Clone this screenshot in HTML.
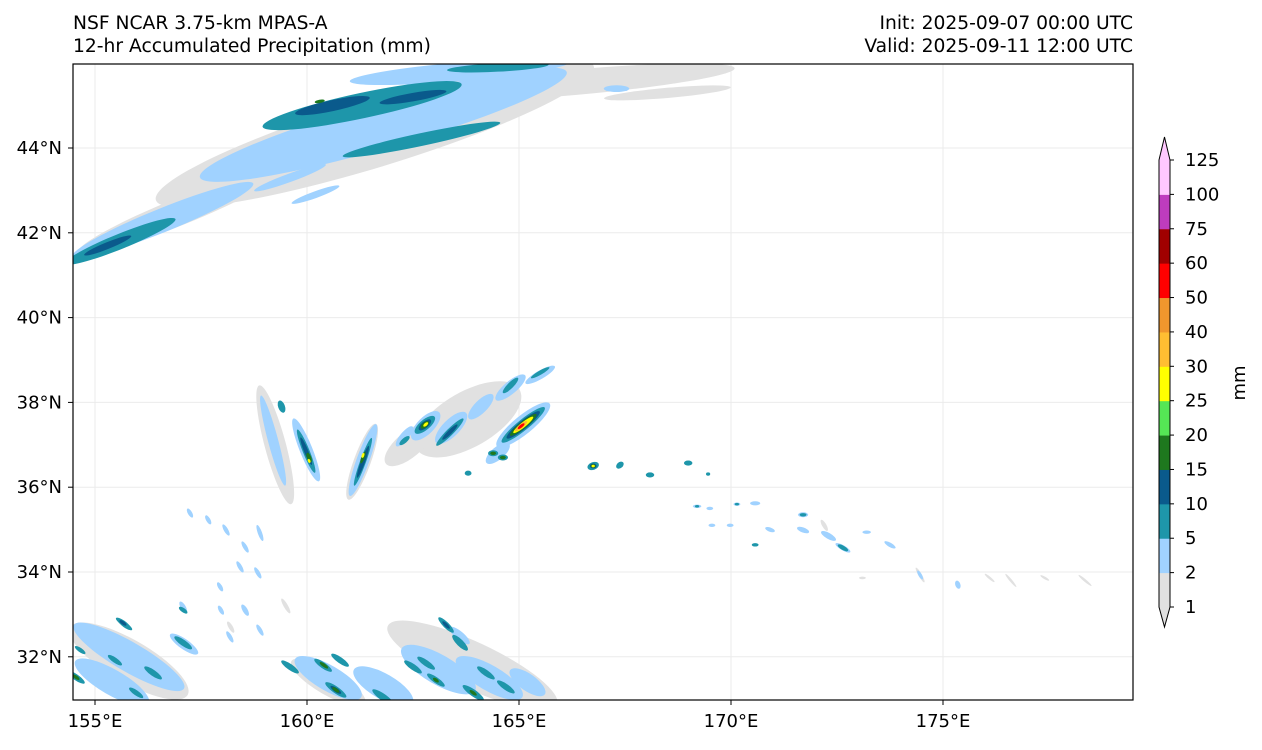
<!DOCTYPE html>
<html><head><meta charset="utf-8"><style>
body{margin:0;background:#fff;font-family:"Liberation Sans","DejaVu Sans",sans-serif}
svg text{font-family:"DejaVu Sans","Liberation Sans",sans-serif;font-size:18px;fill:#000}
svg text.ttl{font-size:18.7px}
</style></head><body>
<svg id="c" width="1262" height="745" xmlns="http://www.w3.org/2000/svg">
<text class="ttl" x="73" y="29">NSF NCAR 3.75-km MPAS-A</text>
<text class="ttl" x="73" y="52">12-hr Accumulated Precipitation (mm)</text>
<text class="ttl" x="1133" y="29" text-anchor="end">Init: 2025-09-07 00:00 UTC</text>
<text class="ttl" x="1133" y="52" text-anchor="end">Valid: 2025-09-11 12:00 UTC</text>
<clipPath id="clip"><rect x="73" y="64" width="1060" height="636"/></clipPath>
<g id="grid"></g>
<g id="fill" clip-path="url(#clip)"></g>
<rect x="73" y="64" width="1060" height="636" fill="none" stroke="#000" stroke-width="1.2"/>
<g id="axes"></g>
<g id="cbar"></g>
<text transform="translate(1245,383) rotate(-90)" text-anchor="middle">mm</text>
</svg>
<script>
const lonTicks=[155,160,165,170,175];
const latTicks=[32,34,36,38,40,42,44];
const levels=[1,2,5,10,15,20,25,30,40,50,60,75,100,125];
const levelColors=["#e1e1e1","#a0d2ff","#1e96aa","#0a5a8c","#1e781e","#55e655","#ffff00","#ffbe32","#f0962d","#ff0000","#a00000","#be3cbe","#ffc8ff"];
// blobs: [lon, lat, rx(deg), ry(deg), rotation(deg, +=clockwise)]
const grayBlobs=[[161.6,44.35,5.4,0.8,-17],[157,42.5,2.6,0.32,-22],[166.3,45.55,3.8,0.3,-5],[168.5,45.3,1.5,0.12,-5],
 [159.25,37.0,1.45,0.25,75],[163.8,37.6,1.4,0.65,-30],[162.4,37.0,0.7,0.3,-40],[161.3,36.6,0.95,0.2,-70],
 [163.9,31.8,2.2,0.55,25],[164.9,31.4,1.2,0.4,35],[155.8,31.9,1.6,0.5,30],[160.5,31.4,1.0,0.3,30],
 [173.1,33.86,0.08,0.03,0],[174.46,33.93,0.2,0.04,60],[176.1,33.86,0.15,0.03,40],[176.6,33.8,0.2,0.03,50],[177.4,33.86,0.12,0.03,30],[178.35,33.8,0.2,0.03,40],[172.2,35.1,0.15,0.05,60],[159.5,33.2,0.2,0.05,60],[158.2,32.7,0.15,0.05,60]];
const blueBlobs=[[161.8,44.55,4.5,0.55,-16],[156.6,42.3,2.3,0.28,-22],[163.6,45.8,2.6,0.22,-5],[159.6,43.3,0.9,0.1,-20],[160.2,42.9,0.6,0.08,-20],[167.3,45.4,0.3,0.08,0],
 [159.2,37.1,1.1,0.12,75],[159.98,36.88,0.8,0.15,68],[161.32,36.64,0.9,0.15,-70],[162.8,37.45,0.45,0.2,-45],[163.4,37.4,0.5,0.2,-45],[164.1,37.9,0.4,0.15,-45],[164.8,38.35,0.45,0.15,-40],[165.5,38.65,0.4,0.1,-30],[165.1,37.47,0.8,0.22,-39],[164.5,36.8,0.35,0.15,-40],[162.3,37.2,0.3,0.1,-50],
 [155.8,32.0,1.5,0.35,30],[155.4,31.4,1.0,0.3,30],[157.1,32.3,0.4,0.12,35],[160.5,31.5,0.9,0.3,30],[161.8,31.3,0.8,0.3,30],[163.1,31.7,1.0,0.35,30],[164.3,31.5,0.9,0.3,30],[165.2,31.4,0.5,0.2,35],[163.6,32.5,0.3,0.1,40],
 [157.24,35.39,0.12,0.05,60],[157.67,35.23,0.12,0.05,60],[158.09,34.99,0.15,0.05,60],[158.54,34.59,0.15,0.05,60],[158.89,34.92,0.2,0.05,70],[158.42,34.12,0.15,0.05,60],[158.84,33.98,0.15,0.05,60],[157.95,33.65,0.12,0.05,60],[158.54,33.1,0.15,0.06,60],[157.08,33.17,0.15,0.06,60],[157.97,33.1,0.12,0.05,60],[158.18,32.47,0.15,0.05,60],[158.89,32.63,0.15,0.05,60],
 [169.2,35.55,0.1,0.04,0],[169.5,35.5,0.08,0.04,0],[170.14,35.6,0.08,0.04,0],[170.57,35.62,0.12,0.05,0],[169.55,35.1,0.08,0.04,0],[169.98,35.1,0.08,0.04,0],[170.92,35.0,0.12,0.05,20],[171.7,35.35,0.12,0.06,0],[171.7,34.99,0.15,0.06,20],[172.3,34.85,0.2,0.07,30],[172.64,34.57,0.2,0.06,30],[173.2,34.94,0.1,0.04,0],[173.75,34.64,0.15,0.05,30],[174.46,33.93,0.12,0.04,60],[175.35,33.7,0.1,0.06,70]];
const tealBlobs=[[161.3,45.0,2.4,0.3,-12],[162.7,44.2,1.9,0.15,-12],[155.6,41.8,1.4,0.18,-22],[164.5,45.9,1.2,0.1,-3],
 [159.98,36.85,0.55,0.08,68],[161.32,36.6,0.6,0.07,-70],[162.78,37.47,0.3,0.12,-40],[162.3,37.1,0.15,0.06,-40],[163.37,37.3,0.45,0.08,-45],[164.8,38.4,0.25,0.07,-45],[165.5,38.7,0.25,0.05,-30],[165.1,37.47,0.65,0.13,-39],[164.39,36.8,0.12,0.07,0],[164.62,36.7,0.12,0.07,0],[163.8,36.33,0.08,0.06,0],[159.4,37.9,0.15,0.08,70],
 [166.75,36.5,0.14,0.09,-20],[167.38,36.52,0.1,0.07,-40],[168.09,36.29,0.1,0.06,0],[168.99,36.57,0.1,0.06,0],[169.46,36.31,0.05,0.04,0],[169.2,35.55,0.05,0.03,0],[170.57,34.64,0.08,0.04,0],[171.7,35.35,0.08,0.04,0],[172.64,34.57,0.14,0.05,30],[170.14,35.6,0.05,0.03,0],
 [155.66,32.8,0.2,0.06,35],[155.71,32.75,0.2,0.06,35],[157.08,32.33,0.25,0.07,35],[156.37,31.62,0.25,0.07,35],[155.97,31.15,0.2,0.06,35],[154.55,31.52,0.25,0.07,35],[155.47,31.92,0.2,0.06,35],[157.08,33.1,0.12,0.05,35],[154.65,32.16,0.15,0.05,35],
 [159.6,31.76,0.25,0.07,35],[160.38,31.8,0.25,0.07,35],[160.78,31.92,0.25,0.07,35],[160.68,31.22,0.3,0.08,35],[161.79,31.05,0.3,0.08,35],[162.5,31.76,0.25,0.07,35],[162.81,31.85,0.25,0.07,35],[163.28,32.75,0.25,0.07,45],[163.61,32.33,0.25,0.08,45],[164.22,31.62,0.25,0.07,35],[163.92,31.15,0.3,0.08,35],[164.69,31.29,0.25,0.07,35],[163.04,31.45,0.25,0.07,35]];
const darkBlueBlobs=[[160.6,45.0,0.9,0.13,-12],[162.5,45.2,0.8,0.1,-10],[155.3,41.7,0.6,0.08,-22],[165.1,37.47,0.5,0.1,-39],[162.78,37.47,0.18,0.08,-40],[166.75,36.5,0.08,0.06,0],[159.98,36.85,0.35,0.05,68],[161.32,36.6,0.4,0.05,-70],[163.37,37.3,0.25,0.05,-45],[160.68,31.22,0.15,0.05,35],[163.28,32.75,0.12,0.04,45],[155.66,32.8,0.1,0.04,35]];
const greenBlobs=[[165.1,37.47,0.4,0.08,-39],[160.3,45.1,0.12,0.04,-10],[162.78,37.47,0.12,0.06,-40],[166.75,36.5,0.06,0.04,0],[160.05,36.7,0.12,0.05,68],[161.32,36.7,0.15,0.04,-70],[164.39,36.8,0.07,0.04,0],[164.62,36.7,0.07,0.04,0],[160.4,31.8,0.12,0.04,35],[160.68,31.22,0.1,0.04,35],[163.04,31.45,0.08,0.04,35],[163.92,31.15,0.1,0.04,35],[154.55,31.52,0.1,0.04,35]];
const yellowBlobs=[[165.1,37.47,0.3,0.06,-39],[162.8,37.48,0.07,0.035,-40],[166.75,36.5,0.04,0.03,0],[161.32,36.75,0.06,0.03,-70],[160.05,36.62,0.05,0.03,68]];
const orangeBlobs=[[165.05,37.44,0.18,0.05,-39]];
const redBlobs=[[165.05,37.44,0.1,0.035,-39]];
const blobSets=[[grayBlobs,0],[blueBlobs,1],[tealBlobs,2],[darkBlueBlobs,3],[greenBlobs,4],[yellowBlobs,6],[orangeBlobs,7],[redBlobs,9]];
const NS="http://www.w3.org/2000/svg",P=42.4;
const xs=lon=>95+(lon-155)*P, ys=lat=>148+(44-lat)*P;
function mk(t,a,p){const e=document.createElementNS(NS,t);for(const k in a)e.setAttribute(k,a[k]);p.appendChild(e);return e;}
const gridG=document.getElementById('grid'),fillG=document.getElementById('fill'),axesG=document.getElementById('axes'),cbG=document.getElementById('cbar');
lonTicks.forEach(l=>{const x=xs(l);
 const g=mk('line',{x1:x,x2:x,y1:64,y2:700,stroke:'#ebebeb','stroke-width':1},gridG);
 
 
 mk('line',{x1:x,x2:x,y1:700,y2:705,stroke:'#000'},axesG);
 const t=mk('text',{x:x,y:727,'text-anchor':'middle'},axesG);t.textContent=l+'°E';
 
 });
latTicks.forEach(l=>{const y=ys(l);
 const g=mk('line',{x1:73,x2:1133,y1:y,y2:y,stroke:'#ebebeb','stroke-width':1},gridG);
 
 
 mk('line',{x1:68,x2:73,y1:y,y2:y,stroke:'#000'},axesG);
 const t=mk('text',{x:62,y:y+6,'text-anchor':'end'},axesG);t.textContent=l+'°N';
 
 });
blobSets.forEach(([set,lv])=>set.forEach(b=>{const cx=xs(b[0]),cy=ys(b[1]);
 const e=mk('ellipse',{cx:cx,cy:cy,rx:b[2]*P,ry:b[3]*P,fill:levelColors[lv],transform:`rotate(${b[4]} ${cx} ${cy})`},fillG);
 
 }));
const cbx=1159,cbw=11,cbTop=160,cbBot=607,nSeg=levels.length-1,seg=(cbBot-cbTop)/nSeg;
const cyf=i=>cbBot-i*seg;
for(let i=0;i<nSeg;i++){const r=mk('rect',{x:cbx,y:cyf(i+1),width:cbw,height:seg+0.5,fill:levelColors[i]},cbG);
 
 }
const extTop=mk('polygon',{points:`${cbx},${cbTop} ${cbx+cbw/2},137 ${cbx+cbw},${cbTop}`,fill:levelColors[nSeg-1]},cbG);


const extBot=mk('polygon',{points:`${cbx},${cbBot} ${cbx+cbw/2},627 ${cbx+cbw},${cbBot}`,fill:levelColors[0]},cbG);


const ol=mk('polygon',{points:`${cbx},${cbTop} ${cbx+cbw/2},137 ${cbx+cbw},${cbTop} ${cbx+cbw},${cbBot} ${cbx+cbw/2},627 ${cbx},${cbBot}`,fill:'none',stroke:'#000','stroke-width':1},cbG);


levels.forEach((v,i)=>{const y=cyf(i);
 mk('line',{x1:cbx+cbw,x2:cbx+cbw+4,y1:y,y2:y,stroke:'#000'},cbG);
 const t=mk('text',{x:1185,y:y+6},cbG);t.textContent=v;
 
 });
</script>
</body></html>
